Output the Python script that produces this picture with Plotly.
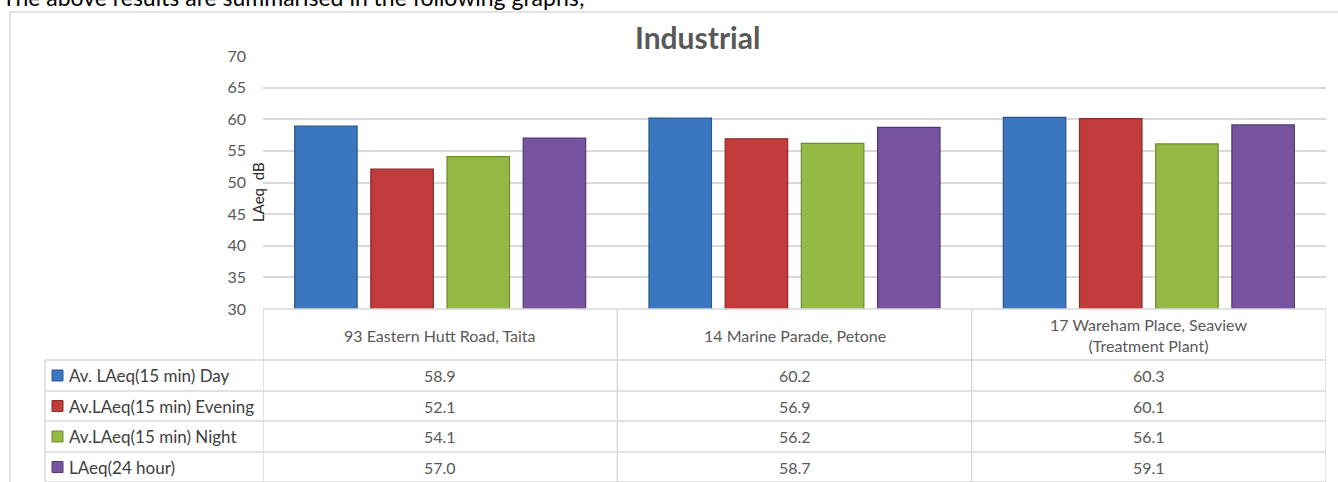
import plotly.graph_objects as go

# Monitoring sites (chart categories)
sites = [
    "93 Eastern Hutt Road, Taita",
    "14 Marine Parade, Petone",
    "17 Wareham Place, Seaview<br>(Treatment Plant)",
]

# Measured levels, LAeq dB
day_15min = [58.9, 60.2, 60.3]
evening_15min = [52.1, 56.9, 60.1]
night_15min = [54.1, 56.2, 56.1]
laeq_24h = [57.0, 58.7, 59.1]

series_names = [
    "Av. LAeq(15 min) Day",
    "Av.LAeq(15 min) Evening",
    "Av.LAeq(15 min) Night",
    "LAeq(24 hour)",
]
series_values = [day_15min, evening_15min, night_15min, laeq_24h]
fill_colors = ["#3B77C1", "#C23C3B", "#94B944", "#7854A0"]
edge_colors = ["#28558E", "#8A2A29", "#6A8A2E", "#533877"]

y_ticks = [30, 35, 40, 45, 50, 55, 60, 65, 70]

W, H = 1338, 482
PL, PR, PT, PB = 263, 1326, 56, 309  # plot area in pixels


def px_x(px):
    return (px - PL) / (PR - PL)


def px_y(py):
    return (PB - py) / (PB - PT)


FONT = "Lato"
GRID = "#D9D9D9"

fig = go.Figure()
for name, vals, fc, ec in zip(series_names, series_values, fill_colors, edge_colors):
    fig.add_trace(go.Bar(
        x=list(range(len(sites))), y=vals, name=name,
        marker=dict(color=fc, line=dict(color=ec, width=1.2)),
        showlegend=False,
    ))

shapes = []
annotations = []

# Outer chart frame
shapes.append(dict(type="rect", xref="paper", yref="paper",
                   x0=px_x(10), x1=px_x(1345), y0=px_y(12), y1=px_y(495),
                   line=dict(color=GRID, width=1.5), fillcolor="rgba(0,0,0,0)", layer="below"))

# Data table grid
row_lines = [360, 391, 421, 452, 482]
shapes.append(dict(type="line", xref="paper", yref="paper",
                   x0=0, x1=1, y0=px_y(PB), y1=px_y(PB), line=dict(color=GRID, width=1.5)))
for ry in row_lines:
    shapes.append(dict(type="line", xref="paper", yref="paper",
                       x0=px_x(45), x1=1, y0=px_y(ry), y1=px_y(ry), line=dict(color=GRID, width=1.5)))
shapes.append(dict(type="line", xref="paper", yref="paper",
                   x0=px_x(45), x1=px_x(45), y0=px_y(360), y1=px_y(490), line=dict(color=GRID, width=1.5)))
for bx in [-0.5, 0.5, 1.5, 2.5]:
    shapes.append(dict(type="line", xref="x", yref="paper",
                       x0=bx, x1=bx, y0=px_y(PB), y1=px_y(490), line=dict(color=GRID, width=1.5)))

# Column headers
for i, s in enumerate(sites):
    annotations.append(dict(xref="x", yref="paper", x=i, y=px_y(335), text=s,
                            showarrow=False, font=dict(family=FONT, size=16, color="#595959"),
                            xanchor="center", yanchor="middle"))

# Table rows: legend key, series name, values
row_centers = [375.5, 406, 436.5, 467]
for name, vals, fc, ec, cy in zip(series_names, series_values, fill_colors, edge_colors, row_centers):
    shapes.append(dict(type="rect", xref="paper", yref="paper",
                       x0=px_x(52), x1=px_x(63), y0=px_y(cy - 5.5), y1=px_y(cy + 5.5),
                       fillcolor=fc, line=dict(color=ec, width=1)))
    annotations.append(dict(xref="paper", yref="paper", x=px_x(67), y=px_y(cy), text=name,
                            showarrow=False, font=dict(family=FONT, size=17, color="#404040"),
                            xanchor="left", yanchor="middle"))
    for i, v in enumerate(vals):
        annotations.append(dict(xref="x", yref="paper", x=i, y=px_y(cy), text=f"{v:.1f}",
                                showarrow=False, font=dict(family=FONT, size=16, color="#595959"),
                                xanchor="center", yanchor="middle"))

# Y axis title
annotations.append(dict(xref="paper", yref="paper", x=px_x(258), y=px_y(192), text="LAeq  dB",
                        textangle=-90, showarrow=False, font=dict(family=FONT, size=15, color="#262626"),
                        xanchor="center", yanchor="middle"))

# Chart title
annotations.append(dict(xref="paper", yref="paper", x=px_x(697), y=px_y(37.5), text="<b>Industrial</b>",
                        showarrow=False, font=dict(family=FONT, size=30, color="#595959"),
                        xanchor="center", yanchor="middle"))

# Caption from the surrounding report text
annotations.append(dict(xref="paper", yref="paper", x=px_x(0), y=px_y(13),
                        text="The above results are summarised in the following graphs;",
                        showarrow=False, font=dict(family=FONT, size=23, color="#000000"),
                        xanchor="left", yanchor="bottom"))

fig.update_layout(
    width=W, height=H,
    margin=dict(l=PL, r=W - PR, t=PT, b=H - PB, pad=0),
    paper_bgcolor="white", plot_bgcolor="white",
    barmode="group", bargap=0.14, bargroupgap=0.18,
    shapes=shapes, annotations=annotations,
    xaxis=dict(range=[-0.5, 2.5], showticklabels=False, showgrid=False, zeroline=False,
               showline=False, ticks=""),
    yaxis=dict(range=[30, 70], tickvals=y_ticks, showgrid=True, gridcolor=GRID, gridwidth=1.5,
               zeroline=False, showline=False, ticks="", ticklabelstandoff=16,
               tickfont=dict(family=FONT, size=16, color="#595959")),
)

fig.write_html("out.html")
